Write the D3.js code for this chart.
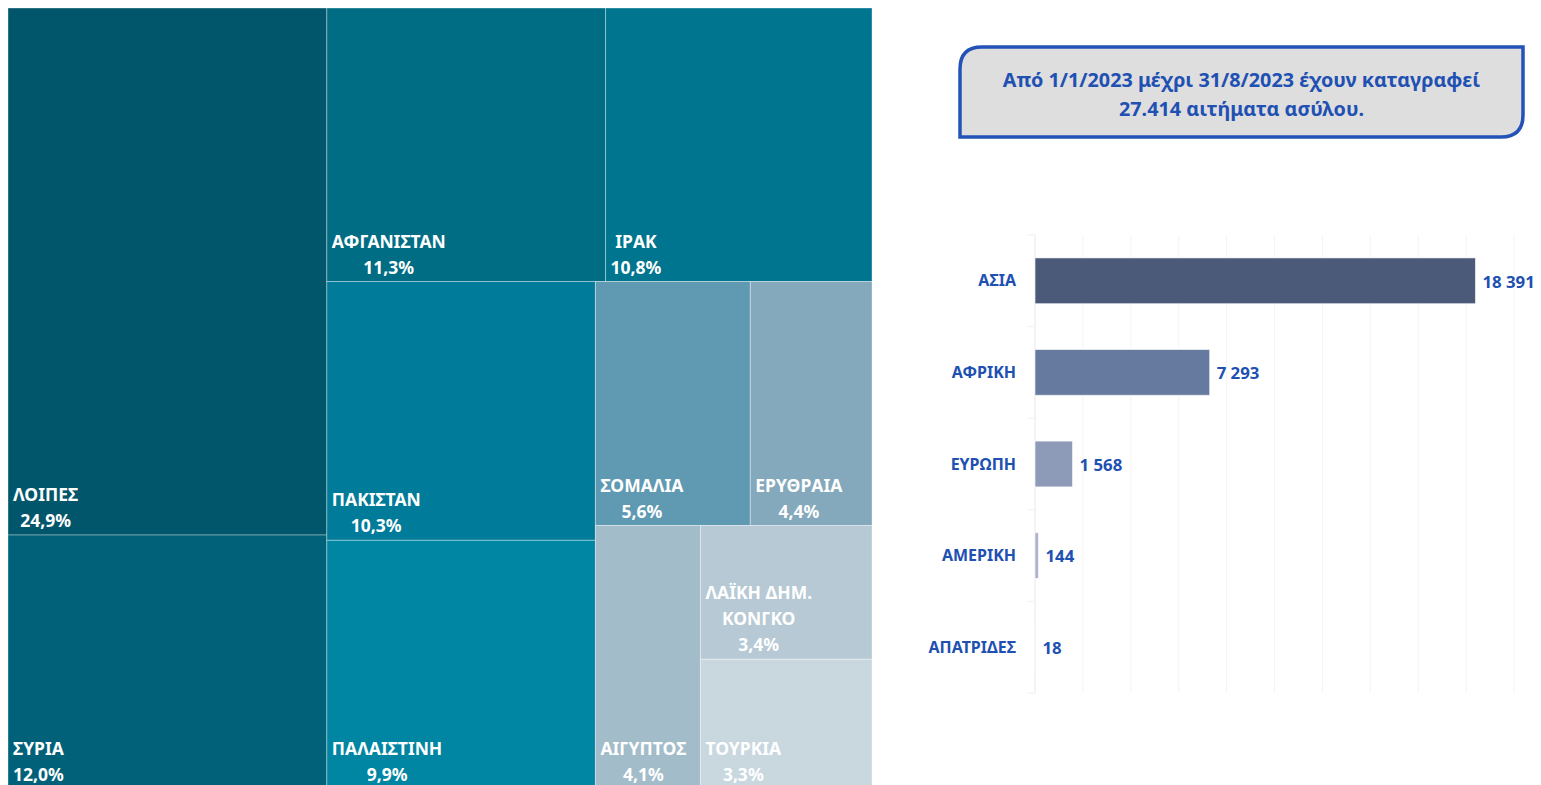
<!DOCTYPE html>
<html>
<head>
<meta charset="utf-8">
<script src="https://cdn.jsdelivr.net/npm/d3@7"></script>
<style>
  body { margin: 0; background: #fff; }
  svg { display: block; font-family: "Noto Sans", "Open Sans", sans-serif; font-weight: bold; }
</style>
</head>
<body>
<div id="chart"></div>
<script>
// treemap data (share of asylum applications, %)
const countries = ["ΛΟΙΠΕΣ", "ΣΥΡΙΑ", "ΑΦΓΑΝΙΣΤΑΝ", "ΙΡΑΚ", "ΠΑΚΙΣΤΑΝ", "ΠΑΛΑΙΣΤΙΝΗ",
                   "ΣΟΜΑΛΙΑ", "ΕΡΥΘΡΑΙΑ", "ΑΙΓΥΠΤΟΣ", "ΛΑΪΚΗ ΔΗΜ.\nΚΟΝΓΚΟ", "ΤΟΥΡΚΙΑ"];
const shares = [24.9, 12.0, 11.3, 10.8, 10.3, 9.9, 5.6, 4.4, 4.1, 3.4, 3.3];
const cellColors = ["#02566b", "#006178", "#006d84", "#00758f", "#007b99", "#0085a2",
                    "#5f9ab2", "#85a9bc", "#a2bcca", "#b6c9d4", "#c9d7df"];

// bar chart data (applications per continent)
const continents = ["ΑΣΙΑ", "ΑΦΡΙΚΗ", "ΕΥΡΩΠΗ", "ΑΜΕΡΙΚΗ", "ΑΠΑΤΡΙΔΕΣ"];
const applications = [18391, 7293, 1568, 144, 18];
const barColors = ["#4a5a78", "#66799e", "#8e9bb8", "#a9b3ca", "#c4cbdb"];

const boxLines = ["Από 1/1/2023 μέχρι 31/8/2023 έχουν καταγραφεί", "27.414 αιτήματα ασύλου."];

const blue = "#2150b3";

const svg = d3.select("#chart").append("svg")
    .attr("width", 1541)
    .attr("height", 785);

// ---------- treemap ----------
// Excel lays the tiles out in strips of these sizes
const strips = [2, 2, 2, 2, 1, 1, 1];
function stripTile(parent, x0, y0, x1, y1) {
  const nodes = parent.children;
  let value = parent.value, i = 0;
  strips.forEach(k => {
    const row = {children: nodes.slice(i, i + k)};
    row.value = d3.sum(row.children, d => d.value);
    const dx = x1 - x0, dy = y1 - y0;
    if (dx < dy) {
      const yb = y0 + dy * row.value / value;
      d3.treemapDice(row, x0, y0, x1, yb);
      y0 = yb;
    } else {
      const xb = x0 + dx * row.value / value;
      d3.treemapSlice(row, x0, y0, xb, y1);
      x0 = xb;
    }
    value -= row.value;
    i += k;
  });
}

const root = d3.hierarchy({children: countries.map((c, i) => ({name: c, value: shares[i], color: cellColors[i]}))})
    .sum(d => d.value || 0);

d3.treemap()
    .tile(stripTile)
    .size([864, 781])(root);

const tm = svg.append("g").attr("transform", "translate(8,8)");

const cell = tm.selectAll("g.cell")
  .data(root.leaves())
  .join("g")
    .attr("class", "cell");

cell.append("rect")
    .attr("x", d => d.x0)
    .attr("y", d => d.y0)
    .attr("width", d => d.x1 - d.x0)
    .attr("height", d => d.y1 - d.y0)
    .attr("fill", d => d.data.color)
    .attr("stroke", "rgba(255,255,255,0.35)")
    .attr("stroke-width", 1);

const fmtPct = d3.formatLocale({decimal: ",", thousands: ".", grouping: [3], currency: ["", ""]}).format(".1f");

cell.each(function(d) {
  const lines = d.data.name.split("\n").concat([fmtPct(d.data.value) + "%"]);
  const t = d3.select(this).append("text")
      .attr("fill", "#fff")
      .attr("font-size", 17.5)
      .attr("text-anchor", "middle");
  const spans = t.selectAll("tspan")
    .data(lines)
    .join("tspan")
      .text(s => s);
  const maxW = d3.max(spans.nodes(), n => n.getComputedTextLength());
  const cx = d.x0 + 5 + maxW / 2;
  spans.attr("x", cx)
      .attr("y", (s, j) => d.y1 - 8 - (lines.length - 1 - j) * 26);
});

// ---------- info box ----------
const bx0 = 960, by0 = 47, bx1 = 1523, by1 = 137, r = 22;
svg.append("path")
    .attr("d", `M${bx0},${by0 + r} Q${bx0},${by0} ${bx0 + r},${by0} L${bx1},${by0} L${bx1},${by1 - r} Q${bx1},${by1} ${bx1 - r},${by1} L${bx0},${by1} Z`)
    .attr("fill", "#dedede")
    .attr("stroke", "#2453b8")
    .attr("stroke-width", 3.5);

svg.append("g").selectAll("text")
  .data(boxLines)
  .join("text")
    .attr("x", (bx0 + bx1) / 2)
    .attr("y", (d, i) => 87 + i * 29)
    .attr("text-anchor", "middle")
    .attr("font-size", 19.8)
    .attr("fill", blue)
    .text(d => d);

// ---------- bar chart ----------
const x = d3.scaleLinear()
    .domain([0, 20000])
    .range([1035, 1514]);

const y = d3.scaleBand()
    .domain(continents)
    .range([235, 693])
    .paddingInner(0.5)
    .paddingOuter(0.25);

const bars = svg.append("g");

// vertical gridlines
bars.selectAll("line.grid")
  .data(x.ticks(10))
  .join("line")
    .attr("class", "grid")
    .attr("x1", d => x(d))
    .attr("x2", d => x(d))
    .attr("y1", 235)
    .attr("y2", 693)
    .attr("stroke", d => d === 0 ? "#e8e8e8" : "#f4f4f4")
    .attr("stroke-width", 1);

// category separators on the axis
const step = y.step();
bars.selectAll("line.sep")
  .data(d3.range(continents.length + 1))
  .join("line")
    .attr("class", "sep")
    .attr("x1", x(0) - 8)
    .attr("x2", x(0))
    .attr("y1", i => 235 + i * step)
    .attr("y2", i => 235 + i * step)
    .attr("stroke", "#f1f1f1");

bars.selectAll("rect")
  .data(applications)
  .join("rect")
    .attr("x", x(0))
    .attr("y", (d, i) => y(continents[i]))
    .attr("width", d => x(d) - x(0))
    .attr("height", y.bandwidth())
    .attr("fill", (d, i) => barColors[i])
    .attr("stroke", "rgba(255,255,255,0.6)")
    .attr("stroke-width", 1);

bars.selectAll("text.cat")
  .data(continents)
  .join("text")
    .attr("class", "cat")
    .attr("x", 1016)
    .attr("y", d => y(d) + y.bandwidth() / 2)
    .attr("dy", "0.35em")
    .attr("text-anchor", "end")
    .attr("font-size", 16)
    .attr("fill", blue)
    .text(d => d);

const fmtNum = d3.formatLocale({decimal: ",", thousands: " ", grouping: [3], currency: ["", ""]}).format(",d");

bars.selectAll("text.val")
  .data(applications)
  .join("text")
    .attr("class", "val")
    .attr("x", d => x(d) + 7)
    .attr("y", (d, i) => y(continents[i]) + y.bandwidth() / 2)
    .attr("dy", "0.4em")
    .attr("font-size", 16.8)
    .attr("fill", blue)
    .text(d => fmtNum(d));
</script>
</body>
</html>
